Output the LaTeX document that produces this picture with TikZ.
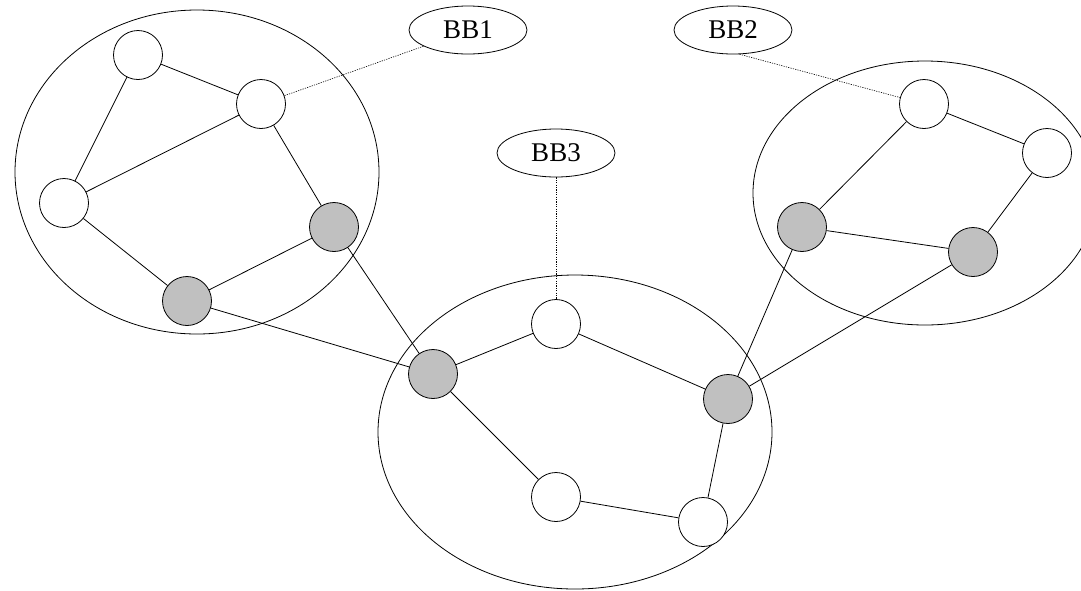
\documentclass[tikz,border=0pt]{standalone}
\usepackage{fontspec}
\setmainfont{Liberation Serif}
\usetikzlibrary{shapes.geometric}
\definecolor{nodegray}{RGB}{192,192,192}
\tikzset{
  vertex/.style={circle, draw, line width=0.8pt, minimum size=49pt, inner sep=0pt, fill=white},
  border/.style={vertex, fill=nodegray},
  link/.style={line width=0.8pt},
  tag/.style={ellipse, draw, line width=0.8pt, minimum width=118pt, minimum height=48pt, inner sep=0pt, font=\fontsize{27}{30}\selectfont},
  leader/.style={line width=0.6pt, dash pattern=on 1.2pt off 1.2pt},
  bbarea/.style={line width=0.8pt}
}
\begin{document}
\begin{tikzpicture}[x=1pt, y=-1pt]
\clip (0,0) rectangle (1081,590);
\useasboundingbox (0,0) rectangle (1081,590);

% backbone domains
\draw[bbarea] (197,172) ellipse (182 and 162);
\draw[bbarea] (925,193) ellipse (172 and 132);
\draw[bbarea] (575,432) ellipse (197 and 157);

% routers of domain BB1
\node[vertex] (a) at (138,55) {};
\node[vertex] (b) at (261,104) {};
\node[vertex] (c) at (64,203) {};
\node[border] (d) at (334,227) {};
\node[border] (e) at (187,301) {};

% routers of domain BB2
\node[vertex] (f) at (924,104) {};
\node[vertex] (g) at (1047,153) {};
\node[border] (h) at (802,227) {};
\node[border] (i) at (973,252) {};

% routers of domain BB3
\node[border] (j) at (433,374) {};
\node[vertex] (k) at (556,324) {};
\node[border] (l) at (728,399) {};
\node[vertex] (m) at (556,497) {};
\node[vertex] (n) at (703,522) {};

% labels
\node[tag] (bb1) at (468,30) {BB1};
\node[tag] (bb2) at (733,30) {BB2};
\node[tag] (bb3) at (556,153) {BB3};

% intra-domain links
\draw[link] (a) -- (b);
\draw[link] (a) -- (c);
\draw[link] (c) -- (b);
\draw[link] (b) -- (d);
\draw[link] (c) -- (e);
\draw[link] (e) -- (d);

\draw[link] (f) -- (g);
\draw[link] (f) -- (h);
\draw[link] (h) -- (i);
\draw[link] (g) -- (i);

\draw[link] (j) -- (k);
\draw[link] (k) -- (l);
\draw[link] (j) -- (m);
\draw[link] (m) -- (n);
\draw[link] (n) -- (l);

% inter-domain links
\draw[link] (e) -- (j);
\draw[link] (d) -- (j);
\draw[link] (h) -- (l);
\draw[link] (i) -- (l);

% label leaders
\draw[leader] (bb1.200) -- (b);
\draw[leader] (bb2.-75) -- (f);
\draw[leader] (bb3.south) -- (k);
\end{tikzpicture}
\end{document}
